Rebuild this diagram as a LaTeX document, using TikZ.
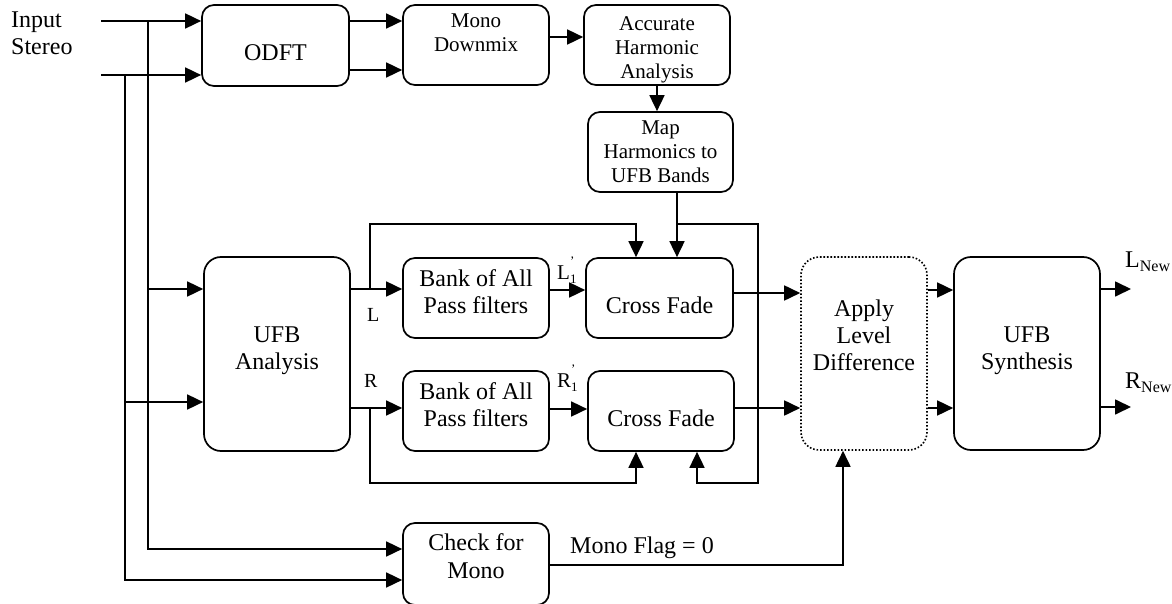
\documentclass[tikz,border=0pt]{standalone}
\usepackage{fontspec}
\setmainfont{Liberation Serif}
\usetikzlibrary{arrows.meta}
\begin{document}
\begin{tikzpicture}[x=1pt,y=-1pt,
  big/.style={font=\fontsize{24}{27}\selectfont},
  small/.style={font=\fontsize{21}{24}\selectfont},
  lab/.style={font=\fontsize{20}{22}\selectfont, anchor=base west, inner sep=0pt},
  box/.style={draw, line width=1.7pt, rounded corners=12pt, inner sep=0pt, align=center,
              minimum width=146pt, minimum height=80pt, big},
  tall/.style={box, rounded corners=17pt, minimum height=194pt},
  dotbox/.style={box, line width=1.6pt, dash pattern=on 1.6pt off 1.9pt, rounded corners=18pt,
                 minimum width=126pt, minimum height=193pt},
  low/.style={text height=30pt, text depth=0pt},
  ln/.style={line width=1.7pt},
  arr/.style={ln, -{Triangle[length=16pt,width=15pt]}},
]
\useasboundingbox (0,0) rectangle (1172,604);

% text blocks
\node[anchor=north west, inner sep=0pt, align=left, big] (inp) at (11,11.5) {Input\\Stereo};

% boxes
\node[box, low, minimum width=147pt, minimum height=81pt] (odft) at (275.5,45.5) {ODFT};
\node[box, small] (md) at (476,45) {Mono\\Downmix\\\mbox{}};
\node[box, small] (aha) at (657,45) {\mbox{}\\[-1pt]Accurate\\Harmonic\\Analysis};
\node[box, small, minimum width=145pt] (map) at (660.5,152) {Map\\Harmonics to\\UFB Bands};
\node[tall] (ufba) at (277,354) {UFB\\Analysis\\[-16pt]\mbox{}};
\node[box] (bank1) at (476,298) {Bank of All\\Pass filters\\[-14pt]\mbox{}};
\node[box] (bank2) at (476,411) {Bank of All\\Pass filters\\[-14pt]\mbox{}};
\node[box, low, minimum width=147pt] (cf1) at (659.5,298) {Cross Fade};
\node[box, low] (cf2) at (661,411) {Cross Fade};
\node[dotbox] (ald) at (864,353.5) {Apply\\Level\\Difference\\[10pt]\mbox{}};
\node[tall, minimum height=193pt] (ufbs) at (1027,353.5) {UFB\\Synthesis\\[-16pt]\mbox{}};
\node[box, minimum height=82pt, font=\fontsize{24}{28}\selectfont] (cfm) at (476,564) {Check for\\Mono\\[-13pt]\mbox{}};

% labels
\node[lab] (l) at (367,321) {L};
\node[lab] (r) at (364,387) {R};
\node[lab, font=\fontsize{21}{22}\selectfont] (l1) at (557,279) {L\rlap{\raisebox{14pt}{\fontsize{13}{13}\selectfont ’}}\raisebox{-4pt}{\fontsize{13}{13}\selectfont 1}};
\node[lab, font=\fontsize{21}{22}\selectfont] (r1) at (557,387) {R\rlap{\raisebox{14pt}{\fontsize{13}{13}\selectfont ’}}\raisebox{-4pt}{\fontsize{13}{13}\selectfont 1}};
\node[lab, font=\fontsize{24}{24}\selectfont] (lnew) at (1125,267) {L\raisebox{-4pt}{\fontsize{16}{16}\selectfont New}};
\node[lab, font=\fontsize{24}{24}\selectfont] (rnew) at (1125,388) {R\raisebox{-4pt}{\fontsize{16}{16}\selectfont New}};
\node[lab, font=\fontsize{24}{24}\selectfont] (flag) at (570,553) {Mono Flag = 0};

% inputs
\coordinate (i1) at (101,21);
\coordinate (i2) at (101,75);
\draw[arr] (i1) -- (i1 -| odft.west);
\draw[arr] (i2) -- (i2 -| odft.west);
\coordinate (v1) at (148,21);
\coordinate (v2) at (125,75);
\draw[arr] (v1) |- ([yshift=15pt]cfm.west);
\draw[arr] (v2) |- ([yshift=-16pt]cfm.west);
\coordinate (j1) at (148,289);
\draw[arr] (j1) -- (j1 -| ufba.west);
\coordinate (j2) at (125,402);
\draw[arr] (j2) -- (j2 -| ufba.west);

% top chain
\draw[arr] (odft.east |- i1) -- (md.west |- i1);
\draw[arr] (odft.east |- 0,70) -- (md.west |- 0,70);
\draw[arr] (md.east |- 0,37) -- (aha.west |- 0,37);
\draw[arr] (aha.south) -- (aha.south |- map.north);
\draw[arr] (map.south -| 677,0) -- (cf1.north -| 677,0);
\coordinate (m1) at (677,224);
\draw[arr] (m1) -| (758,483) -| (cf2.south -| 697,0);

% L / R paths
\coordinate (lb) at (370,289);
\draw[arr] (ufba.east |- lb) -- (bank1.west |- lb);
\draw[arr] (lb) |- (636,224) -- (cf1.north -| 636,0);
\coordinate (rb) at (370,408);
\draw[arr] (ufba.east |- rb) -- (bank2.west |- rb);
\draw[arr] (rb) |- (636,483) -- (cf2.south -| 636,0);
\draw[arr] (bank1.east |- 0,290) -- (cf1.west |- 0,290);
\draw[arr] (bank2.east |- 0,409) -- (cf2.west |- 0,409);
\draw[arr] (cf1.east |- 0,293) -- (ald.west |- 0,293);
\draw[arr] (cf2.east |- 0,408) -- (ald.west |- 0,408);
\draw[arr] (ald.east |- 0,290) -- (ufbs.west |- 0,290);
\draw[arr] (ald.east |- 0,408) -- (ufbs.west |- 0,408);
\coordinate (lo) at (1131,289);
\coordinate (ro) at (1131,407);
\draw[arr] (ufbs.east |- lo) -- (lo);
\draw[arr] (ufbs.east |- ro) -- (ro);
\draw[arr] (cfm.east |- 0,565) -| (ald.south -| 843,0);
\end{tikzpicture}
\end{document}
